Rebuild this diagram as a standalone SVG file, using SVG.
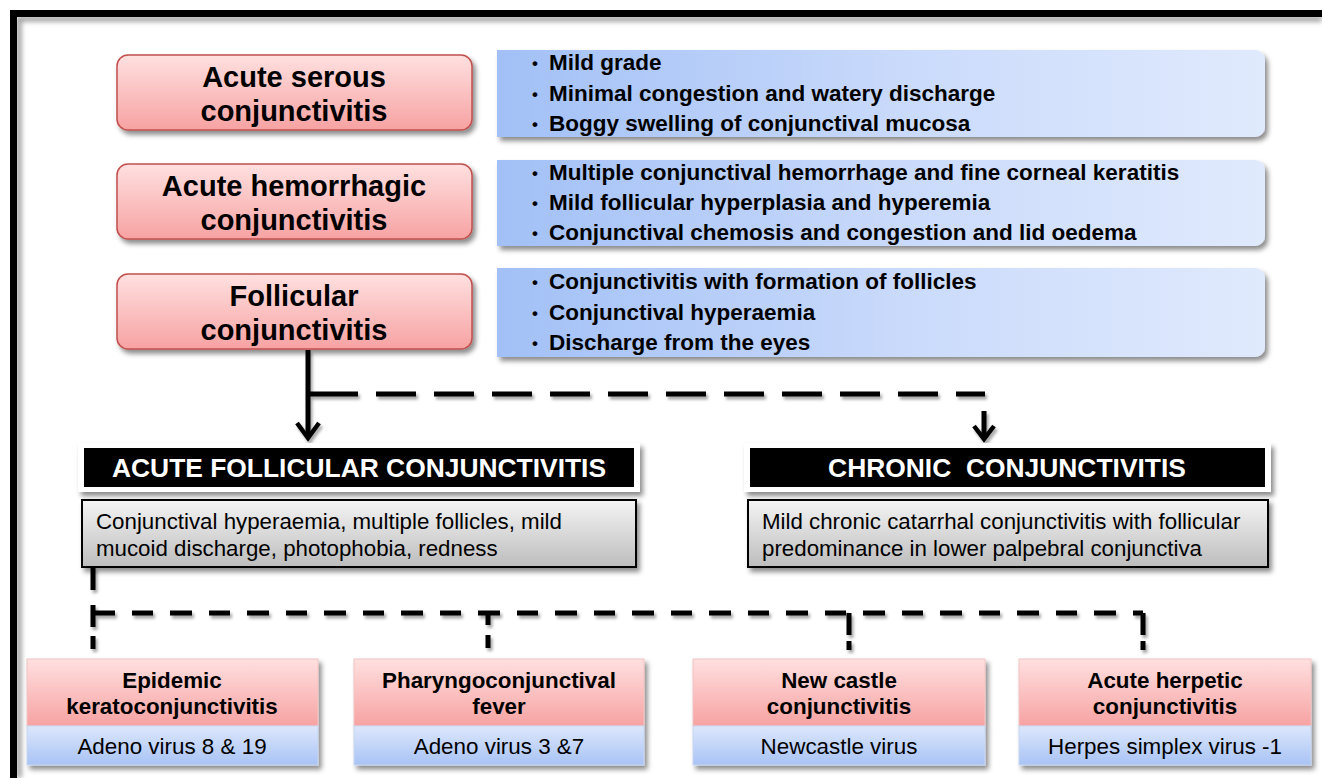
<svg xmlns="http://www.w3.org/2000/svg" width="1322" height="778" viewBox="0 0 1322 778">
<defs>
<linearGradient id="gPink" x1="0" y1="0" x2="0" y2="1"><stop offset="0" stop-color="#ffe0e0"/><stop offset="1" stop-color="#f7a2a2"/></linearGradient>
<linearGradient id="gBlueH" x1="0" y1="0" x2="1" y2="0"><stop offset="0" stop-color="#a2c0f6"/><stop offset="0.55" stop-color="#cbdbfb"/><stop offset="1" stop-color="#e0eafd"/></linearGradient>
<linearGradient id="gBlueV" x1="0" y1="0" x2="0" y2="1"><stop offset="0" stop-color="#dde7fc"/><stop offset="1" stop-color="#a8c3f5"/></linearGradient>
<linearGradient id="gGray" x1="0" y1="0" x2="0" y2="1"><stop offset="0" stop-color="#f4f4f4"/><stop offset="1" stop-color="#bdbdbd"/></linearGradient>
<filter id="sh" x="-10%" y="-20%" width="120%" height="150%"><feDropShadow dx="3" dy="4" stdDeviation="2.5" flood-color="#000" flood-opacity="0.45"/></filter>
<filter id="shl" filterUnits="userSpaceOnUse" x="0" y="0" width="1322" height="778"><feDropShadow dx="2" dy="3" stdDeviation="1.5" flood-color="#000" flood-opacity="0.35"/></filter>
<filter id="blur" filterUnits="userSpaceOnUse" x="0" y="0" width="1322" height="778"><feGaussianBlur stdDeviation="2.5"/></filter>
</defs>
<style>
.ttl{font-family:"Liberation Sans",Arial,sans-serif;font-weight:bold;font-size:29px;fill:#000;text-anchor:middle}
.bul{font-family:"Liberation Sans",Arial,sans-serif;font-weight:bold;font-size:22.5px;fill:#000}
.dot{font-family:"Liberation Sans",Arial,sans-serif;font-weight:bold;font-size:17px;fill:#000}
.hdr{font-family:"Liberation Sans",Arial,sans-serif;font-weight:bold;font-size:26.4px;fill:#fff;text-anchor:middle}
.dsc{font-family:"Liberation Sans",Arial,sans-serif;font-size:22.3px;fill:#000}
.bt{font-family:"Liberation Sans",Arial,sans-serif;font-weight:bold;font-size:22.4px;fill:#000;text-anchor:middle}
.bv{font-family:"Liberation Sans",Arial,sans-serif;font-size:22.4px;fill:#000;text-anchor:middle}
.pinkbox{fill:url(#gPink);stroke:#c0504d;stroke-width:1.5;filter:url(#sh)}
.bluebox{fill:url(#gBlueH);filter:url(#sh)}
.conn{fill:none;stroke:#000;stroke-width:5}
.head{fill:none;stroke:#000;stroke-width:4.5;stroke-linejoin:miter}
</style>
<rect x="0" y="0" width="1322" height="778" fill="#fff"/>
<!-- frame -->
<path d="M19,778 V19 H1322" fill="none" stroke="#999" stroke-width="5" filter="url(#blur)"/>
<path d="M13.5,778 V13.5 H1322" fill="none" stroke="#000" stroke-width="7"/>

<g id="n-acute-serous">
<rect class="pinkbox" x="117" y="55" width="355" height="75" rx="11"/>
<text class="ttl" x="294" y="87">Acute serous</text>
<text class="ttl" x="294" y="121">conjunctivitis</text>
</g>
<g id="d-acute-serous">
<path class="bluebox" d="M497,50 H1255 A10,10 0 0 1 1265,60 V127 A10,10 0 0 1 1255,137 H497 Z"/>
<text class="dot" x="532" y="69">•</text><text class="bul" x="549" y="70">Mild grade</text>
<text class="dot" x="532" y="100">•</text><text class="bul" x="549" y="101">Minimal congestion and watery discharge</text>
<text class="dot" x="532" y="130">•</text><text class="bul" x="549" y="131">Boggy swelling of conjunctival mucosa</text>
</g>

<g id="n-acute-hemorrhagic">
<rect class="pinkbox" x="117" y="164" width="355" height="75" rx="11"/>
<text class="ttl" x="294" y="196">Acute hemorrhagic</text>
<text class="ttl" x="294" y="230">conjunctivitis</text>
</g>
<g id="d-acute-hemorrhagic">
<path class="bluebox" d="M497,160 H1255 A10,10 0 0 1 1265,170 V236 A10,10 0 0 1 1255,246 H497 Z"/>
<text class="dot" x="532" y="179">•</text><text class="bul" x="549" y="180">Multiple conjunctival hemorrhage and fine corneal keratitis</text>
<text class="dot" x="532" y="209">•</text><text class="bul" x="549" y="210">Mild follicular hyperplasia and hyperemia</text>
<text class="dot" x="532" y="239">•</text><text class="bul" x="549" y="240">Conjunctival chemosis and congestion and lid oedema</text>
</g>

<g id="n-follicular">
<rect class="pinkbox" x="117" y="274" width="355" height="75" rx="11"/>
<text class="ttl" x="294" y="306">Follicular</text>
<text class="ttl" x="294" y="340">conjunctivitis</text>
</g>
<g id="d-follicular">
<path class="bluebox" d="M497,268 H1255 A10,10 0 0 1 1265,278 V347 A10,10 0 0 1 1255,357 H497 Z"/>
<text class="dot" x="532" y="288">•</text><text class="bul" x="549" y="289">Conjunctivitis with formation of follicles</text>
<text class="dot" x="532" y="319">•</text><text class="bul" x="549" y="320">Conjunctival hyperaemia</text>
<text class="dot" x="532" y="349">•</text><text class="bul" x="549" y="350">Discharge from the eyes</text>
</g>

<g id="connectors" filter="url(#shl)">
<line class="conn" x1="308" y1="350" x2="308" y2="437"/>
<path class="head" d="M297,423 L308,438 L319,423"/>
<path class="conn" d="M308,394 H985" stroke-dasharray="50 18 40 18 40 18 40 18 40 18 40 18 40 18 40 18 40 18 40 18 40 18 40 18 40 18"/>
<line class="conn" x1="984" y1="411" x2="984" y2="437" stroke-width="4.5"/>
<path class="head" d="M974,426 L984,439 L994,426"/>
<path class="conn" d="M93,567 V590"/>
<path class="conn" d="M93,605 V650" stroke-dasharray="22 9 13 9"/>
<path class="conn" d="M93,613 H1143" stroke-dasharray="22 17 21 17"/>
<path class="conn" d="M488,613 V650" stroke-dasharray="12 10 13 10"/>
<path class="conn" d="M849,613 V650" stroke-dasharray="22 6 12 10"/>
<path class="conn" d="M1143,613 V650" stroke-dasharray="22 6 12 10"/>
</g>

<g id="n-acute-follicular">
<rect x="78" y="443" width="562" height="49" fill="#fff" filter="url(#sh)"/>
<rect x="84" y="448" width="550" height="39" fill="#000"/>
<text class="hdr" x="359" y="477">ACUTE FOLLICULAR CONJUNCTIVITIS</text>
</g>
<g id="d-acute-follicular">
<rect x="82" y="500" width="554" height="67" fill="url(#gGray)" stroke="#000" stroke-width="2" filter="url(#sh)"/>
<text class="dsc" x="96" y="529">Conjunctival hyperaemia, multiple follicles, mild</text>
<text class="dsc" x="96" y="556">mucoid discharge, photophobia, redness</text>
</g>

<g id="n-chronic">
<rect x="744" y="443" width="527" height="49" fill="#fff" filter="url(#sh)"/>
<rect x="750" y="448" width="515" height="39" fill="#000"/>
<text class="hdr" x="1007" y="477" xml:space="preserve">CHRONIC  CONJUNCTIVITIS</text>
</g>
<g id="d-chronic">
<rect x="748" y="500" width="520" height="67" fill="url(#gGray)" stroke="#000" stroke-width="2" filter="url(#sh)"/>
<text class="dsc" x="762" y="529">Mild chronic catarrhal conjunctivitis with follicular</text>
<text class="dsc" x="762" y="556">predominance in lower palpebral conjunctiva</text>
</g>

<g id="n-epidemic">
<g filter="url(#sh)">
<rect x="27" y="659" width="291" height="67" fill="url(#gPink)" stroke="#f2c4c4" stroke-width="1"/>
<rect x="27" y="726" width="291" height="39" fill="url(#gBlueV)" stroke="#c8d6f0" stroke-width="1"/>
</g>
<text class="bt" x="172" y="688">Epidemic</text>
<text class="bt" x="172" y="714">keratoconjunctivitis</text>
<text class="bv" x="172" y="754">Adeno virus 8 &amp; 19</text>
</g>
<g id="n-pharyngo">
<g filter="url(#sh)">
<rect x="354" y="659" width="290" height="67" fill="url(#gPink)" stroke="#f2c4c4" stroke-width="1"/>
<rect x="354" y="726" width="290" height="39" fill="url(#gBlueV)" stroke="#c8d6f0" stroke-width="1"/>
</g>
<text class="bt" x="499" y="688">Pharyngoconjunctival</text>
<text class="bt" x="499" y="714">fever</text>
<text class="bv" x="499" y="754">Adeno virus 3 &amp;7</text>
</g>
<g id="n-newcastle">
<g filter="url(#sh)">
<rect x="693" y="659" width="292" height="67" fill="url(#gPink)" stroke="#f2c4c4" stroke-width="1"/>
<rect x="693" y="726" width="292" height="39" fill="url(#gBlueV)" stroke="#c8d6f0" stroke-width="1"/>
</g>
<text class="bt" x="839" y="688">New castle</text>
<text class="bt" x="839" y="714">conjunctivitis</text>
<text class="bv" x="839" y="754">Newcastle virus</text>
</g>
<g id="n-herpetic">
<g filter="url(#sh)">
<rect x="1019" y="659" width="292" height="67" fill="url(#gPink)" stroke="#f2c4c4" stroke-width="1"/>
<rect x="1019" y="726" width="292" height="39" fill="url(#gBlueV)" stroke="#c8d6f0" stroke-width="1"/>
</g>
<text class="bt" x="1165" y="688">Acute herpetic</text>
<text class="bt" x="1165" y="714">conjunctivitis</text>
<text class="bv" x="1165" y="754">Herpes simplex virus -1</text>
</g>
</svg>
